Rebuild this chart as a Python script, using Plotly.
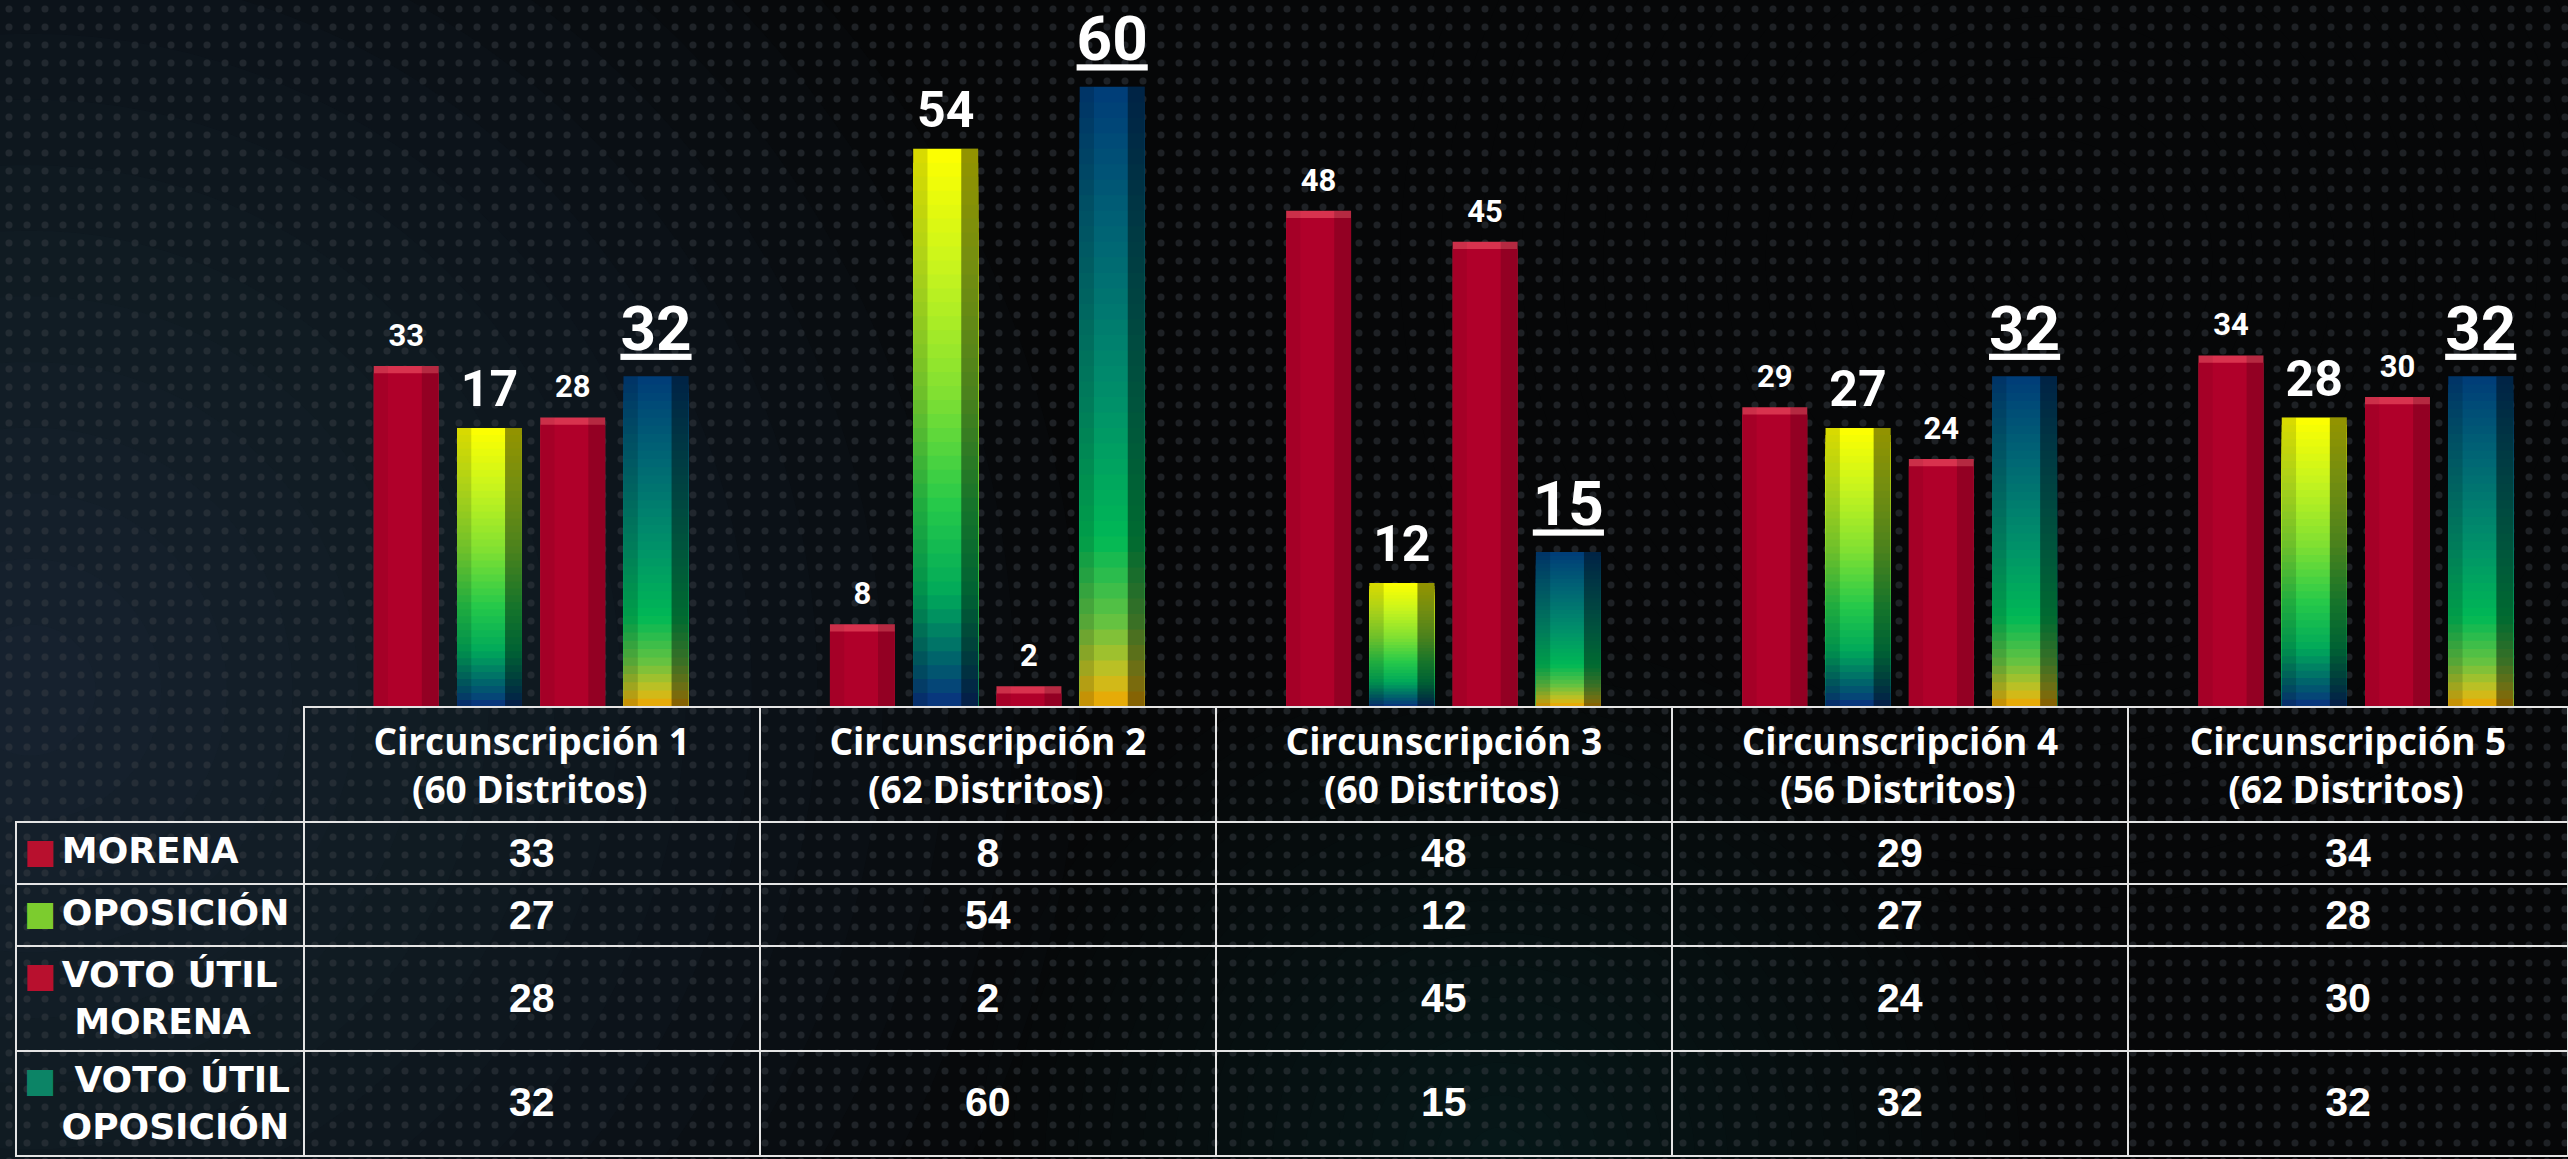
import plotly.graph_objects as go

# ---------------- data ----------------
circunscripciones = ["Circunscripción 1", "Circunscripción 2", "Circunscripción 3",
                     "Circunscripción 4", "Circunscripción 5"]
distritos = [60, 62, 60, 56, 62]
morena = [33, 8, 48, 29, 34]
oposicion = [27, 54, 12, 27, 28]
oposicion_bar_labels = ["17", "54", "12", "27", "28"]
voto_util_morena = [28, 2, 45, 24, 30]
voto_util_oposicion = [32, 60, 15, 32, 32]
row_labels = ["MORENA", "OPOSICIÓN", "VOTO ÚTIL MORENA", "VOTO ÚTIL OPOSICIÓN"]

# ---------------- styling ----------------
W, H = 2568, 1159
BARGAP, BARGROUPGAP, NSERIES = 0.27, 0.22, 4
RED = "#b0002a"
RED_TOP = "#d8324e"
OP_SCALE = [(0.0, "#0a2f80"), (0.08, "#00606c"), (0.2, "#00a85a"), (0.36, "#25c94a"),
            (0.56, "#80e032"), (0.78, "#c6f41e"), (1.0, "#ffff00")]
VO_SCALE = [(0.0, "#f0a400"), (0.05, "#c8c020"), (0.14, "#62c242"), (0.27, "#00b855"),
            (0.5, "#008f6a"), (0.75, "#006674"), (1.0, "#003c78")]
N_LAYERS = 40
nb = "\u00a0"


def hex2rgb(h):
    h = h.lstrip("#")
    return tuple(int(h[i:i + 2], 16) for i in (0, 2, 4))


def interp(scale, t):
    for (p0, c0), (p1, c1) in zip(scale[:-1], scale[1:]):
        if p0 <= t <= p1:
            f = 0 if p1 == p0 else (t - p0) / (p1 - p0)
            a, b = hex2rgb(c0), hex2rgb(c1)
            return "rgb(%d,%d,%d)" % tuple(round(a[i] + (b[i] - a[i]) * f) for i in range(3))
    return scale[-1][1]


fig = go.Figure()

# soft background glow (many faint rings -> smooth radial gradient)
glows = [(30, 690, 1050, "#3f5468", 0.04), (1500, 1160, 520, "#2a3038", 0.03),
         (2050, 260, 650, "#1c2228", 0.03)]
for cx, cy, r, col, op in glows:
    for i in range(16):
        rr = r * (1 - i / 16)
        fig.add_shape(type="circle", xref="paper", yref="paper", layer="below",
                      x0=(cx - rr) / W, x1=(cx + rr) / W,
                      y0=1 - (cy + rr) / H, y1=1 - (cy - rr) / H,
                      fillcolor=col, opacity=op, line_width=0)

# dotted texture over whole background
fig.add_trace(go.Bar(x=[0], y=[1], width=[1], xaxis="x", yaxis="y", hoverinfo="skip",
                     marker=dict(color="rgba(0,0,0,0)", line_width=0,
                                 pattern=dict(shape=".", fgcolor="#363b42", size=18,
                                              solidity=0.12))))

SLOT = (1 - BARGAP) / NSERIES
BW = SLOT * (1 - BARGROUPGAP)


def bevel(values, group, idx, left_alpha, right_alpha):
    """darker side strips giving the bars a bevelled look"""
    center = -(1 - BARGAP) / 2 + SLOT * (idx + 0.5)
    for off, wid, a in [(center - BW / 2, 0.22 * BW, left_alpha),
                        (center + BW / 2 - 0.26 * BW, 0.26 * BW, right_alpha)]:
        fig.add_trace(go.Bar(x=circunscripciones, y=values, offsetgroup=group, xaxis="x2",
                             yaxis="y2", offset=off, width=wid, hoverinfo="skip",
                             marker=dict(color="rgba(0,0,0,%.2f)" % a, line_width=0)))


def bar_label(txt, size):
    # digits in a span, plus a tiny spacer line that lifts the label off the bar
    return "<span style='font-size:%dpx'><b>%s</b></span><br>%s" % (size, txt, nb)


def solid_series(values, group, idx, labels):
    fig.add_trace(go.Bar(x=circunscripciones, y=values, offsetgroup=group, xaxis="x2", yaxis="y2",
                         marker=dict(color=RED_TOP, line_width=0), text=labels,
                         textposition="outside", cliponaxis=False, constraintext="none",
                         textfont=dict(family="Roboto", size=11, color="white"),
                         hoverinfo="skip"))
    fig.add_trace(go.Bar(x=circunscripciones, y=[v - 0.7 for v in values], offsetgroup=group,
                         xaxis="x2", yaxis="y2", marker=dict(color=RED, line_width=0),
                         hoverinfo="skip"))
    bevel(values, group, idx, 0.06, 0.16)


def gradient_series(values, group, idx, scale, labels, spacer):
    for k in range(N_LAYERS, 0, -1):
        frac = k / N_LAYERS
        kw = {}
        if k == N_LAYERS:
            kw = dict(text=labels, textposition="outside", cliponaxis=False, constraintext="none",
                      textfont=dict(family="Roboto", size=spacer, color="white"))
        fig.add_trace(go.Bar(x=circunscripciones, y=[v * frac for v in values], offsetgroup=group,
                             xaxis="x2", yaxis="y2",
                             marker=dict(color=interp(scale, (k - 0.5) / N_LAYERS), line_width=0),
                             hoverinfo="skip", **kw))
    bevel(values, group, idx, 0.14, 0.42)


solid_series(morena, "m", 0, [bar_label(v, 31) for v in morena])
gradient_series(oposicion, "o", 1, OP_SCALE, [bar_label(t, 50) for t in oposicion_bar_labels], 12)
solid_series(voto_util_morena, "vm", 2, [bar_label(v, 31) for v in voto_util_morena])
gradient_series(voto_util_oposicion, "vo", 3, VO_SCALE,
                [bar_label("<u>%d</u>" % v, 62) for v in voto_util_oposicion], 15)

# ---------------- table ----------------
SQ = "<span style='color:%s;font-size:34px'>■</span><span style='font-size:18px'>\u00a0</span>"
label_cells = [
    SQ % "#b8102e" + "<b>%s</b><br>" % row_labels[0],
    SQ % "#7ccc2e" + "<b>%s</b><br>" % row_labels[1],
    SQ % "#b8102e" + "<b>VOTO ÚTIL<br>%sMORENA</b>" % (nb * 4),
    SQ % "#0c8466" + "<b>%sVOTO ÚTIL<br>%sOPOSICIÓN</b>" % (nb, nb * 3),
]
header_vals = [""] + ["<b>%s<br>%s(%d Distritos)</b>" % (c, nb * 4, d)
                      for c, d in zip(circunscripciones, distritos)]
NUM = "<span style='font-size:41px'><b>%d</b></span>"
PAD = "<span style='font-size:38px'>\u00a0</span>"   # symmetric spacers -> number sits mid-row
cols = [label_cells]
for i in range(len(circunscripciones)):
    cols.append([
        NUM % morena[i] + "<br>",
        NUM % oposicion[i] + "<br>",
        PAD + "<br>" + NUM % voto_util_morena[i] + "<br>" + PAD,
        PAD + "<br>" + NUM % voto_util_oposicion[i] + "<br>" + PAD,
    ])

LINE = "#e4e4e4"
fig.add_trace(go.Table(
    domain=dict(x=[16 / W, 1], y=[0, (H - 707) / H]),
    columnwidth=[287, 455, 455, 455, 455, 439],
    header=dict(values=header_vals, height=111, align="center",
                fill_color="rgba(0,0,0,0)",
                line=dict(color=["rgba(0,0,0,0)"] + [LINE] * 5, width=2),
                font=dict(family="Open Sans", size=37, color="white")),
    cells=dict(values=cols, height=56, align=["left"] + ["center"] * 5,
               fill_color="rgba(0,0,0,0)", line=dict(color=LINE, width=2),
               font=dict(family=["DejaVu Sans"] + ["Liberation Sans"] * 5,
                         size=[36, 18, 18, 18, 18, 18], color="white")),
))

fig.update_layout(
    width=W, height=H, margin=dict(l=0, r=0, t=0, b=0),
    paper_bgcolor="#060708", plot_bgcolor="rgba(0,0,0,0)",
    showlegend=False, barmode="group", bargap=BARGAP, bargroupgap=BARGROUPGAP,
    xaxis=dict(domain=[0, 1], range=[-0.5, 0.5], visible=False, fixedrange=True),
    yaxis=dict(domain=[0, 1], range=[0, 1], visible=False, fixedrange=True),
    xaxis2=dict(domain=[303 / W, 1], type="category", range=[-0.5, 4.465], visible=False,
                anchor="y2"),
    yaxis2=dict(domain=[(H - 707) / H, 1], range=[0, 68.4], visible=False, anchor="x2"),
)

fig.write_html("out.html", config={"displayModeBar": False},
               post_script="document.body.style.margin='0';document.body.style.overflow='hidden';")
